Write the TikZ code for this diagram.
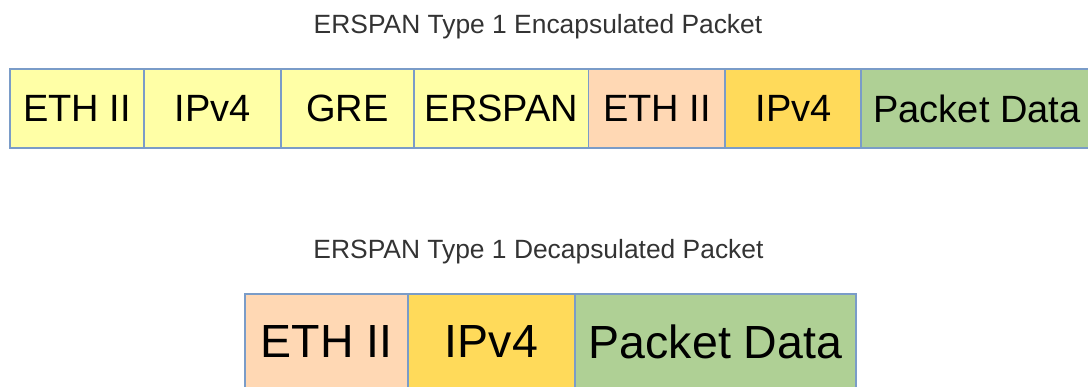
\documentclass[tikz,border=0pt]{standalone}
\usepackage{fontspec}
\setmainfont{Liberation Sans}
\definecolor{bordc}{HTML}{7A9CC8}
\definecolor{lyellow}{HTML}{FFFFA6}
\definecolor{lorange}{HTML}{FFD8B4}
\definecolor{lgold}{HTML}{FFDA5A}
\definecolor{lgreen}{HTML}{AFD095}
\definecolor{titlec}{HTML}{333333}
\begin{document}
\begin{tikzpicture}[x=1pt,y=-1pt,
  titletext/.style={anchor=base, text=titlec, inner sep=0pt, font=\fontsize{26.4}{30}\selectfont},
  field/.style={draw=bordc, line width=1.6pt, inner sep=0pt, anchor=center, text=black},
  toprow/.style={field, minimum height=79pt, font=\fontsize{38}{42}\selectfont},
  botrow/.style={field, minimum height=95pt, font=\fontsize{46.5}{50}\selectfont}]
\useasboundingbox (0,0) rectangle (1088,387);
% titles
\node[titletext] (enc) at (538,34) {ERSPAN Type 1 Encapsulated Packet};
\node[titletext] (dec) at (538.5,259) {ERSPAN Type 1 Decapsulated Packet};
% encapsulated packet
\node[toprow, fill=lyellow, minimum width=134pt] (t1) at (77,108.5) {ETH II};
\node[toprow, fill=lyellow, minimum width=137pt] (t2) at (212.5,108.5) {IPv4};
\node[toprow, fill=lyellow, minimum width=133pt] (t3) at (347.5,108.5) {GRE};
\node[toprow, fill=lyellow, minimum width=175pt] (t4) at (501.5,108.5) {ERSPAN};
\node[toprow, fill=lorange, minimum width=137pt] (t5) at (657,108.5) {ETH II};
\node[toprow, fill=lgold, minimum width=137pt] (t6) at (793.5,108.5) {IPv4};
\node[toprow, fill=lgreen, minimum width=232pt] (t7) at (977,108.5) {Packet Data};
% decapsulated packet
\node[botrow, fill=lorange, minimum width=163pt] (b1) at (326.5,341.5) {ETH II};
\node[botrow, fill=lgold, minimum width=167pt] (b2) at (491.5,341.5) {IPv4};
\node[botrow, fill=lgreen, minimum width=281pt] (b3) at (715.5,341.5) {Packet Data};
\end{tikzpicture}
\end{document}
